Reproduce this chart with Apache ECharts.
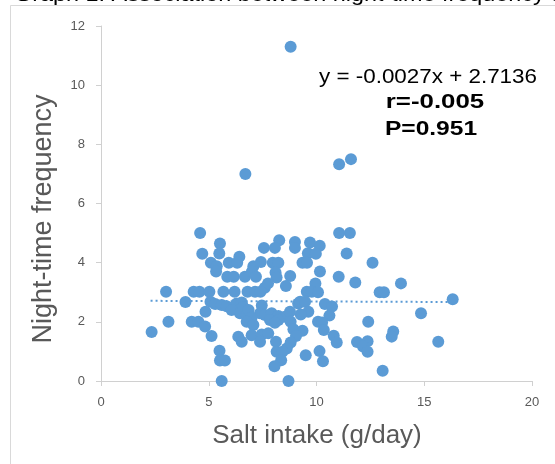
<!DOCTYPE html>
<html>
<head>
<meta charset="utf-8">
<script src="https://cdn.jsdelivr.net/npm/echarts/dist/echarts.min.js"></script>
<style>
html,body{margin:0;padding:0;background:#fff;}
#c{width:555px;height:464px;}
</style>
</head>
<body>
<div id="c"></div>
<script>
// Salt intake (g/day) and night-time frequency
var saltIntake = [8.8,6.7,11.05,11.6,4.6,11.05,11.55,5.52,4.7,5.49,8.27,7.56,8.07,9.0,9.0,9.7,10.15,9.6,9.97,11.4,6.42,
5.1,5.37,5.93,6.32,7.07,7.42,7.97,8.23,9.35,9.56,12.6,5.34,5.86,6.16,6.68,7.0,7.19,8.1,8.15,8.78,10.16,11.03,
7.6,7.75,8.58,9.95,11.8,13.92,3.02,4.3,4.57,5.03,5.68,6.2,6.8,7.15,7.4,9.55,9.78,10.07,12.93,13.13,
3.92,5.08,5.3,5.6,5.83,6.3,6.53,6.6,7.46,9.15,9.24,9.47,10.39,10.72,16.32,14.85,
4.85,6.06,6.45,6.76,6.85,7.38,7.61,7.92,8.23,8.54,7.84,8.23,6.99,8.77,9.62,9.27,10.6,
4.21,4.52,3.13,6.76,8.07,8.8,10.07,10.26,12.4,2.35,4.83,7.07,8.93,9.35,10.34,13.56,13.49,
5.13,6.37,6.99,7.46,7.76,9.05,10.8,6.53,7.38,8.12,8.8,10.94,11.88,12.37,12.16,15.65,
8.62,5.5,8.15,8.42,12.37,10.14,9.5,5.52,5.75,8.36,8.05,10.3,13.07,5.6,8.7];
var nightFreq = [11.3,7.0,7.33,7.5,5.0,5.0,5.0,4.65,4.3,4.31,4.76,4.5,4.5,4.7,4.5,4.68,4.57,4.32,4.3,4.31,4.2,
4.0,3.88,4.0,4.0,3.88,4.02,4.0,4.0,4.0,4.0,4.0,3.7,3.52,3.52,3.52,3.69,3.52,3.67,3.5,3.55,3.7,3.52,
3.15,3.3,3.21,3.3,3.33,3.3,3.02,3.02,3.02,3.02,3.02,3.02,3.02,3.02,3.02,3.02,3.02,3.0,3.0,3.0,
2.67,2.68,2.6,2.57,2.53,2.62,2.65,2.5,2.55,2.62,2.68,2.68,2.6,2.52,2.76,2.29,
2.34,2.4,2.29,2.23,2.4,2.29,2.23,2.29,2.2,2.17,2.06,2.06,2.15,2.34,2.34,2.25,2.21,
2.0,2.0,2.0,2.0,1.97,2.0,2.0,1.98,2.0,1.66,1.84,1.89,1.75,1.7,1.72,1.67,1.5,
1.52,1.5,1.55,1.57,1.61,1.52,1.53,1.33,1.33,1.33,1.3,1.3,1.32,1.34,1.17,1.33,
1.1,1.02,0.99,0.99,0.99,1.01,0.87,0.69,0.69,0.7,0.5,0.67,0.35,0.0,0.0];
// Linear trendline end points (y = -0.0027x + 2.7136)
var trendX = [2.3, 16.3];
var trendY = [2.71, 2.67];
var xTicks = [0, 5, 10, 15, 20];
var yTicks = [0, 2, 4, 6, 8, 10, 12];

var pts = saltIntake.map(function(v, i){ return [v, nightFreq[i]]; });
var trend = trendX.map(function(v, i){ return [v, trendY[i]]; });

var blue = '#5B9BD5';
var gray = '#595959';
var axisCol = '#D0D0D0';
var chart = echarts.init(document.getElementById('c'), null, {renderer:'canvas'});
chart.setOption({
  animation: false,
  backgroundColor: '#ffffff',
  grid: {left: 101, right: 23, top: 26, bottom: 83, containLabel: false},
  xAxis: {
    type: 'value', min: xTicks[0], max: xTicks[xTicks.length-1], interval: 5,
    axisLine: {show: true, lineStyle: {color: axisCol, width: 1}},
    axisTick: {show: true, length: 5, lineStyle: {color: axisCol}},
    splitLine: {show: false},
    axisLabel: {color: gray, fontSize: 13, fontFamily: 'Liberation Sans, Arial, sans-serif', margin: 15}
  },
  yAxis: {
    type: 'value', min: yTicks[0], max: yTicks[yTicks.length-1], interval: 2,
    axisLine: {show: true, lineStyle: {color: axisCol, width: 1}},
    axisTick: {show: true, length: 5, lineStyle: {color: axisCol}},
    splitLine: {show: false},
    axisLabel: {color: gray, fontSize: 13, fontFamily: 'Liberation Sans, Arial, sans-serif', margin: 16}
  },
  series: [
    {
      type: 'scatter', data: pts, symbol: 'circle', symbolSize: 12,
      itemStyle: {color: blue, opacity: 1}, z: 3
    },
    {
      type: 'line', data: trend, symbol: 'none', z: 2,
      lineStyle: {color: blue, width: 2, type: [2, 3]}
    }
  ],
  graphic: [
    {type: 'rect', shape: {x: 10.5, y: 5.5, width: 600, height: 600}, silent: true, z: -10,
     style: {fill: 'none', stroke: '#D9D9D9', lineWidth: 1}},
    {type: 'text', x: 14, y: 5, scaleX: 1.17, z: 10,
     style: {text: 'Graph 1. Association between night-time frequency and salt intake', fill: '#000000',
       font: '20px Liberation Sans, Arial, sans-serif', textAlign: 'left', textVerticalAlign: 'bottom'}},
    {type: 'text', x: 428, y: 77, scaleX: 1.12, z: 10,
     style: {text: 'y = -0.0027x + 2.7136', fill: '#000000',
       font: '20px Liberation Sans, Arial, sans-serif', textAlign: 'center', textVerticalAlign: 'middle'}},
    {type: 'text', x: 435, y: 102, scaleX: 1.23, z: 10,
     style: {text: 'r=-0.005', fill: '#000000',
       font: 'bold 21px Liberation Sans, Arial, sans-serif', textAlign: 'center', textVerticalAlign: 'middle'}},
    {type: 'text', x: 431, y: 129, scaleX: 1.17, z: 10,
     style: {text: 'P=0.951', fill: '#000000',
       font: 'bold 21px Liberation Sans, Arial, sans-serif', textAlign: 'center', textVerticalAlign: 'middle'}},
    {type: 'text', x: 317, y: 436, z: 10,
     style: {text: 'Salt intake (g/day)', fill: gray,
       font: '26px Liberation Sans, Arial, sans-serif', textAlign: 'center', textVerticalAlign: 'middle'}},
    {type: 'text', x: 44, y: 219, rotation: Math.PI/2, z: 10,
     style: {text: 'Night-time frequency', fill: gray,
       font: '27px Liberation Sans, Arial, sans-serif', textAlign: 'center', textVerticalAlign: 'middle'}}
  ]
});
</script>
</body>
</html>
